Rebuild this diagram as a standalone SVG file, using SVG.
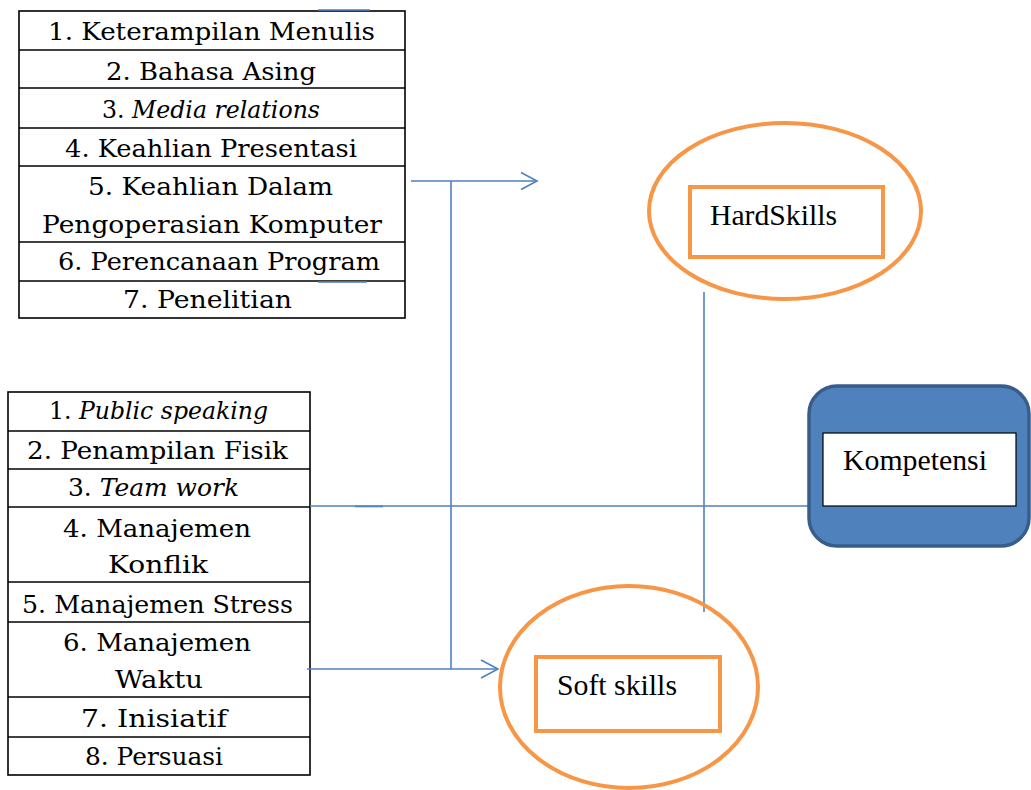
<svg xmlns="http://www.w3.org/2000/svg" width="1031" height="790" viewBox="0 0 1031 790">
<style>
.cell{fill:#fff;stroke:#000;stroke-width:1.6}
.lt{font-family:"DejaVu Serif","Liberation Serif",serif;font-size:25px;fill:#000}
.nt{font-family:"Liberation Serif","Times New Roman",serif;font-size:30px;fill:#000}
.conn{fill:none;stroke:#4F81BD;stroke-width:1.6}
.ell{fill:none;stroke:#F79646;stroke-width:4}
.orect{fill:#fff;stroke:#F79646;stroke-width:4}
</style>
<rect width="1031" height="790" fill="#fff"/>
<g id="hard-list">
<rect class="cell" x="19" y="11" width="386" height="307"/>
<line class="cell" x1="19" y1="50" x2="405" y2="50"/>
<line class="cell" x1="19" y1="88" x2="405" y2="88"/>
<line class="cell" x1="19" y1="128" x2="405" y2="128"/>
<line class="cell" x1="19" y1="166" x2="405" y2="166"/>
<line class="cell" x1="19" y1="242" x2="405" y2="242"/>
<line class="cell" x1="19" y1="281" x2="405" y2="281"/>
<text class="lt" x="48" y="40" textLength="327" lengthAdjust="spacingAndGlyphs">1. Keterampilan Menulis</text>
<text class="lt" x="106" y="80" textLength="210" lengthAdjust="spacingAndGlyphs">2. Bahasa Asing</text>
<text class="lt" x="102" y="118" textLength="218" lengthAdjust="spacingAndGlyphs">3. <tspan font-style="italic">Media relations</tspan></text>
<text class="lt" x="65" y="157" textLength="292" lengthAdjust="spacingAndGlyphs">4. Keahlian Presentasi</text>
<text class="lt" x="88" y="195" textLength="245" lengthAdjust="spacingAndGlyphs">5. Keahlian Dalam</text>
<text class="lt" x="42" y="233" textLength="340" lengthAdjust="spacingAndGlyphs">Pengoperasian Komputer</text>
<text class="lt" x="58" y="270" textLength="322" lengthAdjust="spacingAndGlyphs">6. Perencanaan Program</text>
<text class="lt" x="123" y="308" textLength="169" lengthAdjust="spacingAndGlyphs">7. Penelitian</text>
</g>
<g id="soft-list">
<rect class="cell" x="8" y="392" width="302" height="383"/>
<line class="cell" x1="8" y1="431" x2="310" y2="431"/>
<line class="cell" x1="8" y1="469" x2="310" y2="469"/>
<line class="cell" x1="8" y1="507" x2="310" y2="507"/>
<line class="cell" x1="8" y1="582" x2="310" y2="582"/>
<line class="cell" x1="8" y1="622" x2="310" y2="622"/>
<line class="cell" x1="8" y1="697" x2="310" y2="697"/>
<line class="cell" x1="8" y1="737" x2="310" y2="737"/>
<text class="lt" x="49" y="419" textLength="219" lengthAdjust="spacingAndGlyphs">1. <tspan font-style="italic">Public speaking</tspan></text>
<text class="lt" x="27" y="459" textLength="261" lengthAdjust="spacingAndGlyphs">2. Penampilan Fisik</text>
<text class="lt" x="68" y="496" textLength="171" lengthAdjust="spacingAndGlyphs">3. <tspan font-style="italic">Team work</tspan></text>
<text class="lt" x="63" y="537" textLength="188" lengthAdjust="spacingAndGlyphs">4. Manajemen</text>
<text class="lt" x="108" y="573" textLength="100" lengthAdjust="spacingAndGlyphs">Konflik</text>
<text class="lt" x="22" y="613" textLength="271" lengthAdjust="spacingAndGlyphs">5. Manajemen Stress</text>
<text class="lt" x="63" y="651" textLength="188" lengthAdjust="spacingAndGlyphs">6. Manajemen</text>
<text class="lt" x="115" y="688" textLength="88" lengthAdjust="spacingAndGlyphs">Waktu</text>
<text class="lt" x="81" y="727" textLength="146" lengthAdjust="spacingAndGlyphs">7. Inisiatif</text>
<text class="lt" x="85" y="765" textLength="138" lengthAdjust="spacingAndGlyphs">8. Persuasi</text>
</g>
<g id="connectors">
<polyline class="conn" points="411,181 537,181"/>
<polyline class="conn" points="521,172.5 537,181 521,189.5"/>
<line class="conn" x1="451" y1="181" x2="451" y2="669"/>
<line class="conn" x1="307" y1="669" x2="498" y2="669"/>
<polyline class="conn" points="481,660 498,669 481,678"/>
<line class="conn" x1="310" y1="506" x2="809" y2="506"/>
<line class="conn" x1="355" y1="506.5" x2="383" y2="506.5" stroke-width="2.4"/>
<line class="conn" x1="704" y1="292" x2="704" y2="612"/>
<line class="conn" x1="318" y1="10" x2="370" y2="10"/>
<line class="conn" x1="318" y1="282" x2="367" y2="282"/>
</g>
<g id="hardskills">
<ellipse class="ell" cx="785" cy="211" rx="136" ry="88"/>
<rect class="orect" x="690" y="187" width="193" height="70"/>
<text class="nt" x="710" y="225" textLength="127" lengthAdjust="spacingAndGlyphs">HardSkills</text>
</g>
<g id="softskills">
<ellipse class="ell" cx="629" cy="687" rx="129" ry="101"/>
<rect class="orect" x="536" y="657" width="184" height="74"/>
<text class="nt" x="557" y="695" textLength="120" lengthAdjust="spacingAndGlyphs">Soft skills</text>
</g>
<g id="kompetensi">
<rect x="809" y="386" width="220" height="160" rx="28" fill="#4F81BD" stroke="#385D8A" stroke-width="3.5"/>
<rect x="823" y="433" width="193" height="73" fill="#fff" stroke="#000" stroke-width="1.2"/>
<text class="nt" x="843" y="470" textLength="144" lengthAdjust="spacingAndGlyphs">Kompetensi</text>
</g>
</svg>
